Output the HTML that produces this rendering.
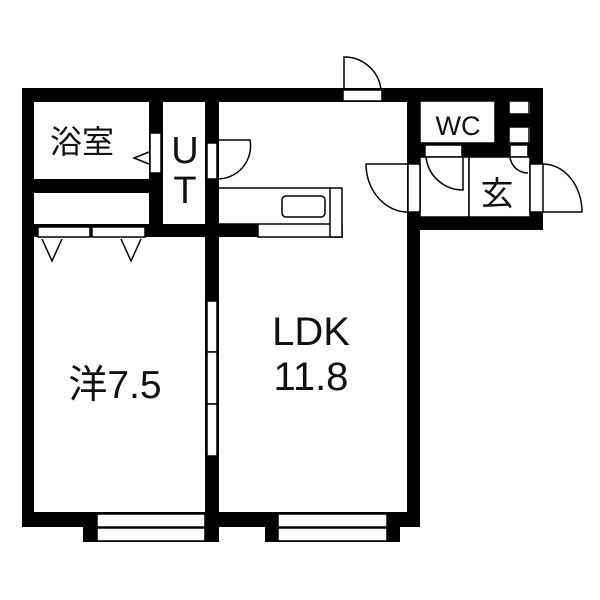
<!DOCTYPE html>
<html><head><meta charset="utf-8"><style>
html,body{margin:0;padding:0;background:#fff;}
svg{display:block;}
text{font-family:"Liberation Sans","Noto Sans CJK JP",sans-serif;fill:#111;}
</style></head><body>
<svg width="600" height="600" viewBox="0 0 600 600" xmlns="http://www.w3.org/2000/svg">
<g fill="#000">
<rect x="22" y="88" width="521" height="14"/>
<rect x="22" y="88" width="12" height="439"/>
<rect x="22" y="512" width="398" height="15"/>
<rect x="407" y="88" width="13" height="439"/>
<rect x="530" y="88" width="13" height="142"/>
<rect x="408" y="217" width="135" height="13"/>
<rect x="83" y="512" width="136" height="30"/>
<rect x="265" y="512" width="135" height="30"/>
<rect x="205" y="88" width="14" height="439"/>
<rect x="149" y="88" width="14" height="149"/>
<rect x="22" y="179" width="141" height="14"/>
<rect x="149" y="224" width="109" height="13"/>
<rect x="22" y="224" width="127" height="13"/>
<rect x="420" y="143" width="110" height="15"/>
<rect x="495" y="88" width="14" height="70"/>
<rect x="509" y="114" width="21" height="13"/>
</g>
<g fill="#fff" stroke="#000" stroke-width="1.5">
<rect x="97" y="514" width="108" height="13"/>
<rect x="97" y="528" width="108" height="13"/>
<rect x="278" y="514" width="109" height="13"/>
<rect x="278" y="528" width="109" height="13"/>
<rect x="207" y="301" width="10" height="51"/>
<rect x="207" y="352" width="10" height="52"/>
<rect x="207" y="404" width="10" height="52"/>
<rect x="38" y="227" width="52" height="10"/>
<rect x="92" y="227" width="53" height="10"/>
<rect x="150" y="133" width="11" height="40"/>
<rect x="207" y="143" width="10" height="36"/>
<rect x="258" y="224" width="84" height="13"/>
<rect x="330" y="188" width="12" height="49"/>
<rect x="282" y="196" width="43" height="21" rx="4"/>
<rect x="343" y="90" width="39" height="11"/>
<rect x="420" y="101" width="75" height="42"/>
<rect x="509" y="101" width="20" height="13"/>
<rect x="509" y="127" width="20" height="16"/>
<rect x="425" y="145" width="37" height="12"/>
<rect x="510" y="145" width="18" height="12"/>
<rect x="420" y="157" width="49" height="60"/>
<rect x="469" y="157" width="61" height="60"/>
<rect x="408" y="164" width="12" height="48"/>
<rect x="530" y="164" width="13" height="48"/>
</g>
<g fill="none" stroke="#000" stroke-width="1.5">
<line x1="219" y1="188" x2="330" y2="188"/>
<line x1="219" y1="224" x2="258" y2="224"/>
<path d="M217 140 H250 A33 33 0 0 1 217 179"/>
<path d="M149 152 L134 158 L149 164"/>
<path d="M42 239 L52 261 L62 239"/>
<path d="M121 239 L131 261 L141 239"/>
<path d="M344 89 V57 A37 37 0 0 1 381 89"/>
<path d="M463 157 V190 A37 37 0 0 1 426 157"/>
<path d="M510 157 A18 18 0 0 0 528 173"/>
<path d="M408 164 H366 A42 48 0 0 0 408 212"/>
<path d="M543 212 H582 A39 48 0 0 0 543 164"/>
</g>
<text x="50" y="153" font-size="32">浴室</text>
<text x="185" y="163" font-size="38" text-anchor="middle">U</text>
<text x="185" y="203" font-size="38" text-anchor="middle">T</text>
<text x="458" y="135" font-size="27" text-anchor="middle">WC</text>
<text x="497" y="205" font-size="33" text-anchor="middle">玄</text>
<text x="115" y="398" font-size="39" text-anchor="middle">洋7.5</text>
<text x="311" y="345" font-size="40" text-anchor="middle">LDK</text>
<text x="311" y="390" font-size="40" text-anchor="middle">11.8</text>
</svg>
</body></html>
